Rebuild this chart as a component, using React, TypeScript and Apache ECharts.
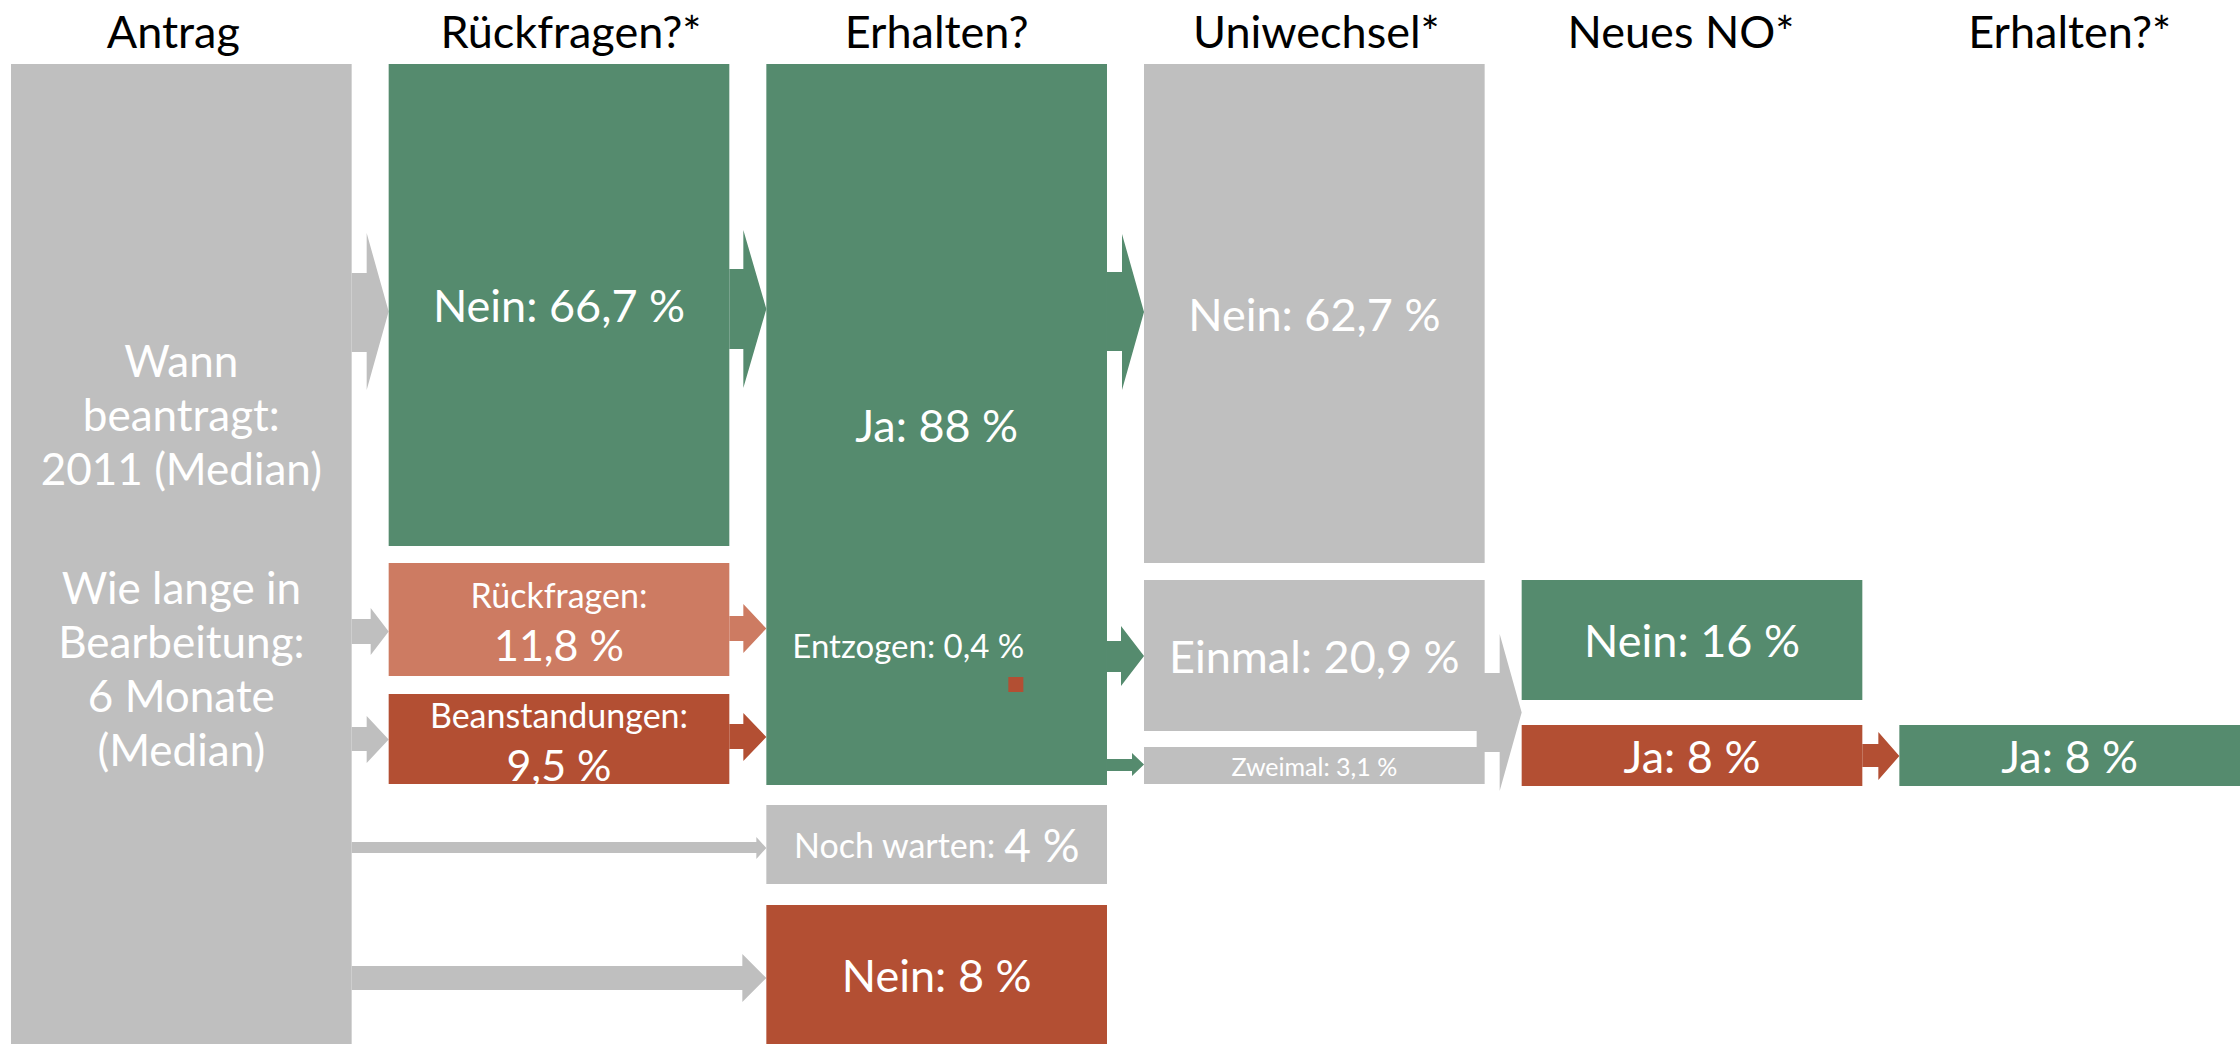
import React, { useEffect, useRef } from "react";
import * as echarts from "echarts";

// ---- data ----
const columns = ["Antrag", "Rückfragen?*", "Erhalten?", "Uniwechsel*", "Neues NO*", "Erhalten?*"];

const boxPrefixes = ["", "Nein: ", "Rückfragen:", "Beanstandungen:", "Ja: ", "Noch warten: ", "Nein: ", "Nein: ", "Einmal: ", "Zweimal: ", "Nein: ", "Ja: ", "Ja: "];
const boxValues: (number | null)[] = [null, 66.7, 11.8, 9.5, 88, 4, 8, 62.7, 20.9, 3.1, 16, 8, 8];
const antragLinesA = ["Wann", "beantragt:", "2011 (Median)"];
const antragLinesB = ["Wie lange in", "Bearbeitung:", "6 Monate", "(Median)"];
const entzogenLabel = "Entzogen: ";
const entzogenValue = 0.4;

// ---- layout (vertical units of the flow diagram) ----
const boxColumn = [0, 1, 1, 1, 2, 2, 2, 3, 3, 3, 4, 4, 5];
const boxTop = [0, 0, 499, 630, 0, 741, 841, 0, 516, 683, 516, 661, 661];
const boxBottom = [980, 482, 612, 720, 721, 820, 980, 499, 667, 720, 636, 722, 722];
const boxTone = ["gray", "green", "salmon", "red", "green", "gray", "red", "gray", "gray", "gray", "green", "red", "green"];
const boxKind = ["antrag", "big", "twoLine", "twoLine", "big", "mixed", "big", "big", "big", "small", "big", "big", "big"];

const arrowFrom = [0, 0, 0, 1, 1, 1, 0, 0, 2, 2, 2, 3, 4];
const arrowTo = [1, 1, 1, 2, 2, 2, 2, 2, 3, 3, 3, 4, 5];
const arrowShaftTop = [209, 555, 663, 205, 552, 660, 778, 902, 208, 577, 695, 609, 680];
const arrowShaftBottom = [288, 580, 687, 285, 577, 685, 789, 926, 287, 608, 707, 688, 703];
const arrowHeadTop = [169, 544, 652, 166, 540, 649, 773, 890, 170, 562, 689, 570, 668];
const arrowHeadBottom = [326, 591, 699, 324, 589, 697, 795, 938, 326, 622, 712, 727, 716];
const arrowHeadLength = [22, 18, 22, 23, 23, 23, 10, 24, 22, 23, 12, 22, 21];
const arrowInset = [0, 0, 0, 0, 0, 0, 0, 0, 0, 0, 0, 8, 0];
const arrowTone = ["gray", "gray", "gray", "green", "salmon", "red", "gray", "gray", "green", "green", "green", "gray", "red"];

const titleShift = [-8, 12, 0, 2, -11, 0];

const COL_W = 0.902;
const FONT = "Lato, 'Open Sans', sans-serif";
const tones: Record<string, string> = {
  gray: "#BFBFBF",
  green: "#558B6E",
  salmon: "#CD7B62",
  red: "#B34F33",
};

const fmt = (v: number) => String(v).replace(".", ",") + " %";

function boxText(i: number) {
  const kind = boxKind[i];
  const v = boxValues[i];
  if (kind === "antrag") {
    return (
      antragLinesA.map((l) => `{a|${l}}`).join("\n") +
      "\n{g| }\n" +
      antragLinesB.map((l) => `{a|${l}}`).join("\n")
    );
  }
  if (kind === "twoLine") return `{s|${boxPrefixes[i]}}\n{b|${fmt(v as number)}}`;
  if (kind === "mixed") return `{s|${boxPrefixes[i]}}{m|${fmt(v as number)}}`;
  return boxPrefixes[i] + fmt(v as number);
}

const rich = {
  a: { fontSize: 44, lineHeight: 54, fill: "#fff", fontFamily: FONT },
  g: { fontSize: 20, lineHeight: 65, fill: "#fff", fontFamily: FONT },
  s: { fontSize: 34, lineHeight: 50, fill: "#fff", fontFamily: FONT },
  b: { fontSize: 43, lineHeight: 50, fill: "#fff", fontFamily: FONT },
  m: { fontSize: 46, lineHeight: 50, fill: "#fff", fontFamily: FONT },
};

export default function App() {
  const ref = useRef<HTMLDivElement>(null);
  useEffect(() => {
    if (!ref.current) return;
    const chart = echarts.init(ref.current, null, { renderer: "svg" });
    const option: any = {
      animation: false,
      backgroundColor: "#ffffff",
      grid: { left: 11, right: 0, top: 64, bottom: 0 },
      xAxis: { type: "value", min: 0, max: 5 + COL_W, show: false },
      yAxis: { type: "value", min: 0, max: 980, inverse: true, show: false },
      series: [
        {
          type: "custom",
          name: "arrows",
          data: arrowFrom.map((f, i) => [f, arrowTo[i], arrowShaftTop[i], arrowShaftBottom[i], arrowHeadTop[i], arrowHeadBottom[i]]),
          renderItem: (params: any, api: any) => {
            const i = params.dataIndex;
            const from = api.value(0);
            const to = api.value(1);
            const xs = api.coord([from + COL_W, 0])[0] - arrowInset[i];
            const xt = api.coord([to, 0])[0];
            const xh = xt - arrowHeadLength[i];
            const sy0 = api.coord([0, api.value(2)])[1];
            const sy1 = api.coord([0, api.value(3)])[1];
            const hy0 = api.coord([0, api.value(4)])[1];
            const hy1 = api.coord([0, api.value(5)])[1];
            const ty = (hy0 + hy1) / 2;
            return {
              type: "polygon",
              shape: {
                points: [
                  [xs, sy0],
                  [xh, sy0],
                  [xh, hy0],
                  [xt, ty],
                  [xh, hy1],
                  [xh, sy1],
                  [xs, sy1],
                ],
              },
              style: { fill: tones[arrowTone[i]] },
            };
          },
          z: 1,
        },
        {
          type: "custom",
          name: "boxes",
          data: boxColumn.map((c, i) => [c, boxTop[i], boxBottom[i]]),
          renderItem: (params: any, api: any) => {
            const i = params.dataIndex;
            const c = api.value(0);
            const p0 = api.coord([c, api.value(1)]);
            const p1 = api.coord([c + COL_W, api.value(2)]);
            const cx = (p0[0] + p1[0]) / 2;
            const cy = (p0[1] + p1[1]) / 2;
            const kind = boxKind[i];
            const fontSize = kind === "small" ? 25 : 45;
            return {
              type: "group",
              children: [
                {
                  type: "rect",
                  shape: { x: p0[0], y: p0[1], width: p1[0] - p0[0], height: p1[1] - p0[1] },
                  style: { fill: tones[boxTone[i]] },
                },
                {
                  type: "text",
                  x: cx,
                  y: cy,
                  style: {
                    text: boxText(i),
                    fill: "#fff",
                    fontSize,
                    fontFamily: FONT,
                    align: "center",
                    verticalAlign: "middle",
                    rich,
                  },
                },
              ],
            };
          },
          z: 2,
        },
        {
          type: "custom",
          name: "entzogen",
          data: [[2, 581, 613]],
          renderItem: (params: any, api: any) => {
            const c = api.value(0);
            const pText = api.coord([c, api.value(1)]);
            const pSq = api.coord([c, api.value(2)]);
            return {
              type: "group",
              children: [
                {
                  type: "text",
                  x: pText[0] + 26,
                  y: pText[1],
                  style: {
                    text: entzogenLabel + fmt(entzogenValue),
                    fill: "#fff",
                    fontSize: 33,
                    fontFamily: FONT,
                    align: "left",
                    verticalAlign: "middle",
                  },
                },
                {
                  type: "rect",
                  shape: { x: pSq[0] + 242, y: pSq[1], width: 15, height: 15 },
                  style: { fill: tones.red },
                },
              ],
            };
          },
          z: 3,
        },
        {
          type: "custom",
          name: "titles",
          data: columns.map((_, i) => [i]),
          renderItem: (params: any, api: any) => {
            const i = params.dataIndex;
            const p = api.coord([api.value(0) + COL_W / 2, 0]);
            return {
              type: "text",
              x: p[0] + titleShift[i],
              y: p[1] - 33,
              style: {
                text: columns[i],
                fill: "#000",
                fontSize: 45,
                fontFamily: FONT,
                align: "center",
                verticalAlign: "middle",
              },
            };
          },
          z: 3,
        },
      ],
    };
    chart.setOption(option);
    return () => chart.dispose();
  }, []);
  return (
    <div
      ref={ref}
      style={{ position: "absolute", left: 0, top: 0, width: 2240, height: 1044, background: "#fff" }}
    />
  );
}
